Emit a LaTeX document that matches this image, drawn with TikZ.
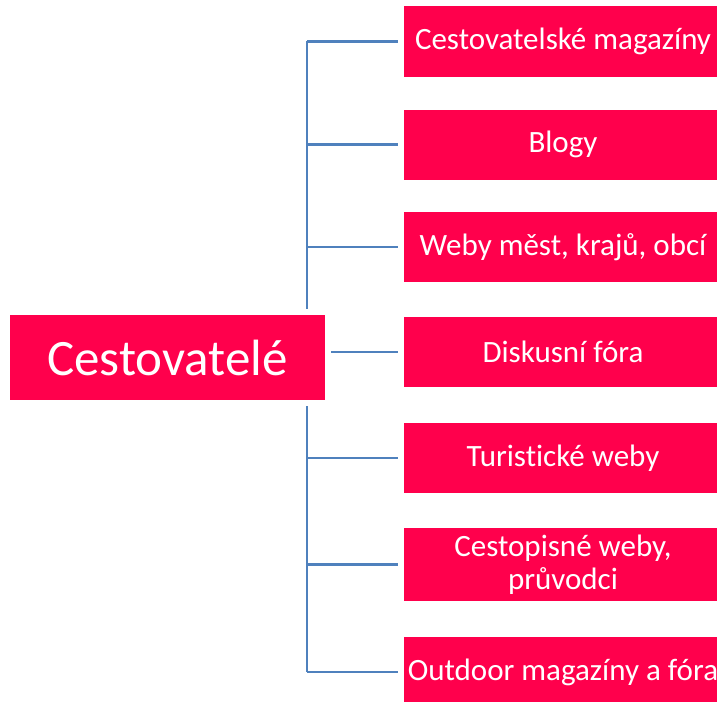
\documentclass[tikz,border=0pt]{standalone}
\usepackage{fontspec}
\setmainfont[Ligatures=NoCommon]{Carlito}
\usepackage{xcolor}
\usetikzlibrary{positioning}
\definecolor{boxred}{RGB}{255,0,76}
\definecolor{linkblue}{RGB}{79,129,189}

\begin{document}
\begin{tikzpicture}[x=1pt,y=-1pt]
  \tikzstyle{topic} = [rectangle, draw=white, line width=6pt, fill=boxred, text=white, inner sep=0pt, minimum width=321pt, minimum height=91pt, font=\fontsize{51}{60}\selectfont]
  \tikzstyle{source} = [rectangle, draw=white, line width=6pt, fill=boxred, text=white, inner sep=0pt, align=center, minimum width=324pt, minimum height=76pt, font=\fontsize{31}{33}\selectfont]
  \tikzstyle{line} = [draw, linkblue, line width=2.7pt]

  \useasboundingbox (0,0) rectangle (717,701);
  \clip (0,0) rectangle (717,701);

  % trunk behind the main box
  \coordinate (t1) at (307,41.5);
  \coordinate (t2) at (307,144.5);
  \coordinate (t3) at (307,247);
  \coordinate (t5) at (307,458);
  \coordinate (t6) at (307,564.5);
  \coordinate (t7) at (307,672);
  \draw[line] (t1) -- (t7);

  % Main box
  \node[topic] (trav) at (167.5,357.5) {Cestovatelé};

  % Sources
  \node[source] (mag) at (563,41.5) {Cestovatelské magazíny};
  \node[source] (blog) at (563,144.5) {Blogy};
  \node[source] (city) at (563,247) {Weby měst, krajů, obcí};
  \node[source] (forum) at (563,352) {Diskusní fóra};
  \node[source] (tour) at (563,458) {Turistické weby};
  \node[source, minimum height=79pt] (guide) at (563,564.5) {Cestopisné weby,\\ průvodci};
  \node[source] (outd) at (563,672) {Outdoor magazíny a fóra};

  \draw[line] (t1) -- (mag);
  \draw[line] (t2) -- (blog);
  \draw[line] (t3) -- (city);
  \draw[line] (trav.east |- forum) -- (forum);
  \draw[line] (t5) -- (tour);
  \draw[line] (t6) -- (guide);
  \draw[line] (t7) -- (outd);
\end{tikzpicture}
\end{document}
